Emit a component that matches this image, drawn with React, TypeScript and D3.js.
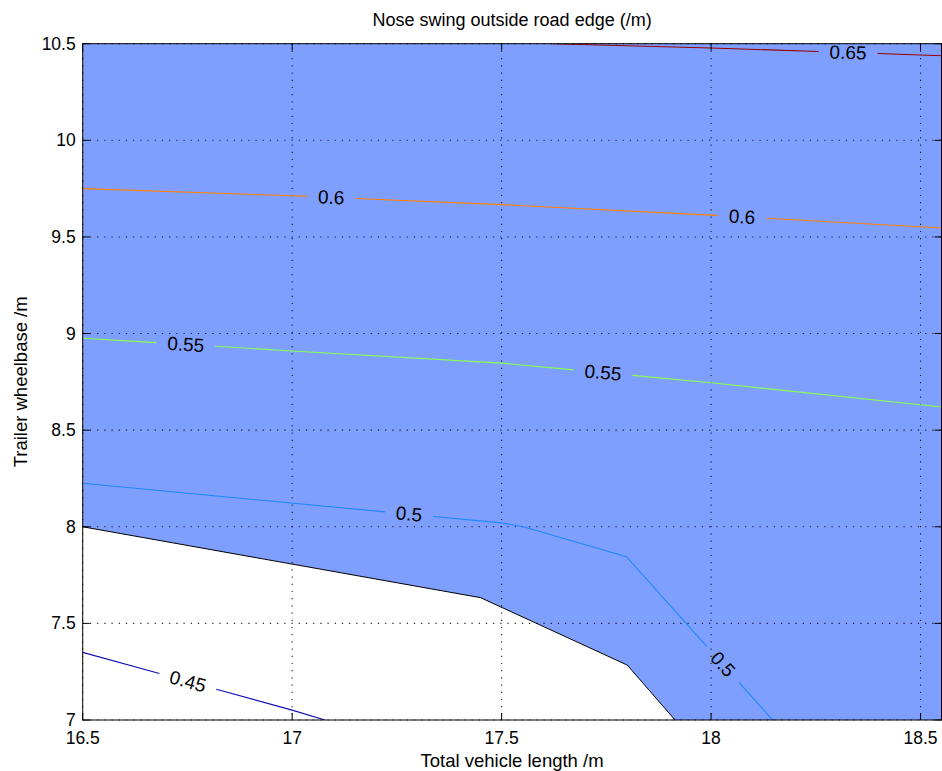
import React from 'react';
import * as d3 from 'd3';

const W = 942;
const H = 771;
const M = { left: 82.7, right: 941.5, top: 43.7, bottom: 720 };

const xDomain: [number, number] = [16.5, 18.55];
const yDomain: [number, number] = [7, 10.5];
const xTicks = [16.5, 17, 17.5, 18, 18.5];
const yTicks = [7, 7.5, 8, 8.5, 9, 9.5, 10, 10.5];

const titleText = 'Nose swing outside road edge (/m)';
const xLabel = 'Total vehicle length /m';
const yLabel = 'Trailer wheelbase /m';

// Lower boundary of the shaded (feasible) region
const shadeEdge: [number, number][] = [
  [16.5, 8.0], [17.45, 7.633], [17.8, 7.284], [17.914, 7.0],
];

// Contour lines (total length, wheelbase)
const contour045: [number, number][] = [[16.5, 7.35], [17.0, 7.051], [17.078, 7.0]];
const contour050: [number, number][] = [
  [16.5, 8.225], [17.5, 8.02], [17.552, 8.0], [17.798, 7.845], [18.147, 7.0],
];
const contour055: [number, number][] = [
  [16.5, 8.976], [17.0, 8.91], [17.5, 8.847], [18.0, 8.745], [18.55, 8.62],
];
const contour060: [number, number][] = [
  [16.5, 9.75], [17.0, 9.713], [17.5, 9.667], [18.0, 9.613], [18.55, 9.546],
];
const contour065: [number, number][] = [[17.622, 10.5], [18.0, 10.478], [18.55, 10.438]];

const levels = [0.45, 0.5, 0.55, 0.6, 0.65];
const levelLines = [contour045, contour050, contour055, contour060, contour065];
const levelColors = ['#1010b8', '#1e88ff', '#88ff50', '#ff8000', '#9a0000'];
const levelText = ['0.45', '0.5', '0.55', '0.6', '0.65'];

// Where each in-line label sits (x position along its contour)
const labelLevels = [0.65, 0.6, 0.6, 0.55, 0.55, 0.5, 0.5, 0.45];
const labelXs = [18.327, 17.093, 18.074, 16.746, 17.742, 17.279, 18.028, 16.751];

const FONT = '"Liberation Sans", Arial, Helvetica, sans-serif';
const LABEL_SIZE = 19;

type Pt = [number, number];

function textWidth(t: string, size: number) {
  let w = 0;
  for (const c of t) w += c === '.' ? 0.278 : 0.556;
  return w * size;
}

function cumLengths(pts: Pt[]) {
  const cum = [0];
  for (let i = 1; i < pts.length; i++) {
    cum.push(cum[i - 1] + Math.hypot(pts[i][0] - pts[i - 1][0], pts[i][1] - pts[i - 1][1]));
  }
  return cum;
}

function pointAt(pts: Pt[], cum: number[], s: number): Pt {
  for (let i = 1; i < pts.length; i++) {
    if (s <= cum[i] || i === pts.length - 1) {
      const L = cum[i] - cum[i - 1];
      const t = L === 0 ? 0 : Math.max(0, Math.min(1, (s - cum[i - 1]) / L));
      return [pts[i - 1][0] + t * (pts[i][0] - pts[i - 1][0]), pts[i - 1][1] + t * (pts[i][1] - pts[i - 1][1])];
    }
  }
  return pts[pts.length - 1];
}

function locate(pts: Pt[], cum: number[], px: number) {
  for (let i = 1; i < pts.length; i++) {
    const [x0, y0] = pts[i - 1];
    const [x1, y1] = pts[i];
    if ((px >= Math.min(x0, x1) && px <= Math.max(x0, x1)) || i === pts.length - 1) {
      const t = x1 === x0 ? 0 : (px - x0) / (x1 - x0);
      const L = cum[i] - cum[i - 1];
      return {
        s: cum[i - 1] + t * L,
        x: px,
        y: y0 + t * (y1 - y0),
        angle: (Math.atan2(y1 - y0, x1 - x0) * 180) / Math.PI,
      };
    }
  }
  return { s: 0, x: px, y: pts[0][1], angle: 0 };
}

function splitPolyline(pts: Pt[], cum: number[], gaps: [number, number][]) {
  const total = cum[cum.length - 1];
  const sorted = gaps.slice().sort((a, b) => a[0] - b[0]);
  const keep: [number, number][] = [];
  let start = 0;
  for (const [a, b] of sorted) {
    if (a > start) keep.push([start, Math.min(a, total)]);
    start = Math.max(start, b);
  }
  if (start < total) keep.push([start, total]);
  return keep.map(([a, b]) => {
    const seg: Pt[] = [pointAt(pts, cum, a)];
    for (let i = 0; i < pts.length; i++) if (cum[i] > a && cum[i] < b) seg.push(pts[i]);
    seg.push(pointAt(pts, cum, b));
    return seg;
  });
}

export default function App() {
  const x = d3.scaleLinear().domain(xDomain).range([M.left, M.right]);
  const y = d3.scaleLinear().domain(yDomain).range([M.bottom, M.top]);
  const line = d3.line<Pt>().x((d) => d[0]).y((d) => d[1]);

  const shadePoly: Pt[] = [
    ...shadeEdge.map((d) => [x(d[0]), y(d[1])] as Pt),
    [x(xDomain[1]), y(yDomain[0])],
    [x(xDomain[1]), y(yDomain[1])],
    [x(xDomain[0]), y(yDomain[1])],
  ];

  const contourMarks = levels.map((lv, li) => {
    const pts: Pt[] = levelLines[li].map((d) => [x(d[0]), y(d[1])] as Pt);
    const cum = cumLengths(pts);
    const labels = labelLevels
      .map((l, k) => ({ l, px: x(labelXs[k]) }))
      .filter((o) => o.l === lv)
      .map((o) => {
        const loc = locate(pts, cum, o.px);
        const w = textWidth(levelText[li], LABEL_SIZE);
        return { ...loc, half: w / 2 + 11 };
      });
    const pieces = splitPolyline(pts, cum, labels.map((l) => [l.s - l.half, l.s + l.half]));
    return { lv, li, pieces, labels };
  });

  const ticks = 7;

  return (
    <svg width={W} height={H} style={{ position: 'absolute', left: 0, top: 0, background: '#fff' }} fontFamily={FONT}>
      <defs>
        <clipPath id="plotClip">
          <rect x={M.left} y={M.top} width={M.right - M.left} height={M.bottom - M.top} />
        </clipPath>
      </defs>
      <rect x={0} y={0} width={W} height={H} fill="#fff" />
      <path d={line(shadePoly) + 'Z'} fill="rgb(127,159,255)" />

      {/* grid */}
      <g stroke="#000" strokeWidth={1.1} strokeDasharray="1.2,6" opacity={0.85}>
        {xTicks.map((t) => (
          <line key={'gx' + t} x1={x(t)} x2={x(t)} y1={M.top} y2={M.bottom} />
        ))}
        {yTicks.map((t) => (
          <line key={'gy' + t} x1={M.left} x2={M.right} y1={y(t)} y2={y(t)} />
        ))}
      </g>

      <g clipPath="url(#plotClip)">
        <path d={line(shadeEdge.map((d) => [x(d[0]), y(d[1])] as Pt)) || ''} fill="none" stroke="#000" strokeWidth={1} />
        {contourMarks.map((c) =>
          c.pieces.map((p, k) => (
            <path key={c.lv + '-' + k} d={line(p) || ''} fill="none" stroke={levelColors[c.li]} strokeWidth={1.1} />
          ))
        )}
      </g>

      {contourMarks.map((c) =>
        c.labels.map((l, k) => (
          <text
            key={'lab' + c.lv + k}
            x={l.x}
            y={l.y}
            transform={`rotate(${l.angle} ${l.x} ${l.y})`}
            textAnchor="middle"
            dominantBaseline="central"
            fontSize={LABEL_SIZE}
            fill="#000"
          >
            {levelText[c.li]}
          </text>
        ))
      )}

      {/* axes box and ticks */}
      <g stroke="#000" strokeWidth={1} fill="none">
        <rect x={M.left} y={M.top} width={M.right - M.left} height={M.bottom - M.top} />
        {xTicks.map((t) => (
          <g key={'tx' + t}>
            <line x1={x(t)} x2={x(t)} y1={M.bottom} y2={M.bottom - ticks} />
            <line x1={x(t)} x2={x(t)} y1={M.top} y2={M.top + ticks} />
          </g>
        ))}
        {yTicks.map((t) => (
          <g key={'ty' + t}>
            <line x1={M.left} x2={M.left + ticks} y1={y(t)} y2={y(t)} />
            <line x1={M.right} x2={M.right - ticks} y1={y(t)} y2={y(t)} />
          </g>
        ))}
      </g>

      <g fontSize={17.5} fill="#000">
        {xTicks.map((t) => (
          <text key={'lx' + t} x={x(t)} y={M.bottom + 24} textAnchor="middle">
            {d3.format('~g')(t)}
          </text>
        ))}
        {yTicks.map((t) => (
          <text key={'ly' + t} x={M.left - 7} y={y(t) + 6} textAnchor="end">
            {d3.format('~g')(t)}
          </text>
        ))}
      </g>

      <text x={(M.left + M.right) / 2} y={26} textAnchor="middle" fontSize={18} fill="#000">
        {titleText}
      </text>
      <text x={(M.left + M.right) / 2} y={767} textAnchor="middle" fontSize={18.5} fill="#000">
        {xLabel}
      </text>
      <text
        transform={`translate(27, ${(M.top + M.bottom) / 2}) rotate(-90)`}
        textAnchor="middle"
        fontSize={18.5}
        fill="#000"
      >
        {yLabel}
      </text>
    </svg>
  );
}
